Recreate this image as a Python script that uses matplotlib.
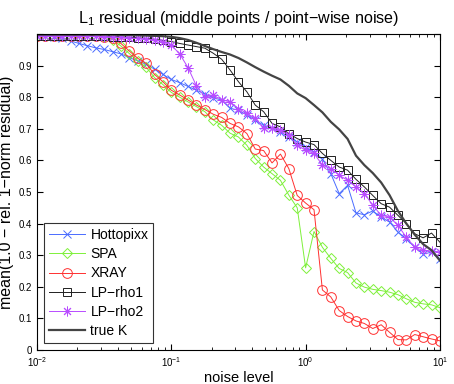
import matplotlib

matplotlib.use("Agg")
import matplotlib.pyplot as plt
import numpy as np
from matplotlib.ticker import FuncFormatter, LogLocator

# noise levels: 49 log-spaced points from 1e-2 to 1e1
noise = np.logspace(-2, 1, 49)

hottopixx = [0.995, 0.994, 0.992, 0.988, 0.978, 0.970, 0.963, 0.956, 0.951, 0.944,
             0.937, 0.925, 0.915, 0.904, 0.889, 0.872, 0.856, 0.846, 0.834, 0.822,
             0.810, 0.798, 0.791, 0.765, 0.759, 0.743, 0.727, 0.711, 0.701, 0.690,
             0.674, 0.658, 0.643, 0.625, 0.604, 0.558, 0.495, 0.521, 0.434, 0.428,
             0.440, 0.420, 0.405, 0.373, 0.352, 0.325, 0.303, 0.310, 0.287]
spa = [0.995, 0.995, 0.995, 0.995, 0.995, 0.995, 0.995, 0.994, 0.990, 0.982,
       0.962, 0.938, 0.915, 0.895, 0.862, 0.840, 0.815, 0.800, 0.785, 0.770,
       0.754, 0.728, 0.711, 0.686, 0.674, 0.648, 0.606, 0.579, 0.558, 0.537,
       0.490, 0.450, 0.260, 0.375, 0.325, 0.290, 0.258, 0.245, 0.212, 0.199,
       0.192, 0.188, 0.183, 0.175, 0.162, 0.151, 0.146, 0.143, 0.134]
xray = [0.995, 0.995, 0.995, 0.995, 0.995, 0.995, 0.995, 0.995, 0.992, 0.986,
        0.970, 0.946, 0.923, 0.907, 0.872, 0.849, 0.822, 0.807, 0.791, 0.775,
        0.761, 0.746, 0.736, 0.717, 0.706, 0.685, 0.636, 0.631, 0.592, 0.620,
        0.574, 0.489, 0.465, 0.444, 0.190, 0.168, 0.125, 0.106, 0.092, 0.084,
        0.068, 0.080, 0.056, 0.033, 0.032, 0.049, 0.042, 0.035, 0.029]
lp_rho1 = [0.995, 0.995, 0.995, 0.995, 0.994, 0.994, 0.994, 0.993, 0.993, 0.992,
           0.991, 0.990, 0.988, 0.986, 0.983, 0.980, 0.976, 0.970, 0.965, 0.960,
           0.955, 0.939, 0.920, 0.886, 0.849, 0.817, 0.775, 0.754, 0.717, 0.706,
           0.685, 0.669, 0.658, 0.650, 0.622, 0.600, 0.579, 0.569, 0.540, 0.516,
           0.489, 0.463, 0.452, 0.426, 0.400, 0.368, 0.355, 0.370, 0.341]
lp_rho2 = [0.995, 0.995, 0.995, 0.995, 0.994, 0.994, 0.993, 0.993, 0.992, 0.991,
           0.990, 0.988, 0.986, 0.984, 0.981, 0.975, 0.965, 0.937, 0.893, 0.835,
           0.801, 0.806, 0.792, 0.785, 0.764, 0.749, 0.733, 0.701, 0.701, 0.696,
           0.680, 0.648, 0.632, 0.622, 0.585, 0.574, 0.553, 0.537, 0.516, 0.495,
           0.458, 0.426, 0.421, 0.394, 0.357, 0.325, 0.315, 0.313, 0.310]
true_k = [0.998, 0.998, 0.998, 0.998, 0.998, 0.998, 0.998, 0.998, 0.998, 0.998,
          0.997, 0.997, 0.996, 0.995, 0.994, 0.993, 0.991, 0.987, 0.981, 0.972,
          0.962, 0.952, 0.943, 0.935, 0.924, 0.910, 0.895, 0.881, 0.868, 0.856,
          0.836, 0.812, 0.797, 0.775, 0.752, 0.722, 0.698, 0.668, 0.615, 0.585,
          0.560, 0.530, 0.490, 0.440, 0.400, 0.365, 0.335, 0.316, 0.283]

plt.rcParams["font.family"] = ["Liberation Sans", "DejaVu Sans"]
plt.rcParams["mathtext.fontset"] = "custom"
plt.rcParams["mathtext.rm"] = "Liberation Sans"
plt.rcParams["mathtext.it"] = "Liberation Sans:italic"

fig = plt.figure(figsize=(4.54, 3.84), dpi=100)
ax = fig.add_axes([0.0815, 0.0885, 0.8875, 0.823])

asterisk = (8, 2, 0)
series = [
    (hottopixx, "Hottopixx", "#4a6cff", "x", 5.5),
    (spa, "SPA", "#7ef03a", "D", 5),
    (xray, "XRAY", "#ff3030", "o", 7),
    (lp_rho1, "LP\u2212rho1", "#202020", "s", 6),
    (lp_rho2, "LP\u2212rho2", "#b84cff", asterisk, 7),
]
for vals, label, color, marker, ms in series:
    ax.plot(noise, vals, color=color, lw=0.7, marker=marker, ms=ms,
            mfc="none", mec=color, mew=0.7, label=label)
ax.plot(noise, true_k, color="#444444", lw=1.6, label="true K")

ax.set_xscale("log")
ax.set_xlim(1e-2, 1e1)
ax.set_ylim(0, 1)
ax.set_yticks(np.arange(0, 1.01, 0.1))
ax.yaxis.set_major_formatter(FuncFormatter(
    lambda v, p: "" if v > 0.95 else (f"{v:.1f}" if v > 0.05 else "0")))
ax.xaxis.set_minor_locator(LogLocator(base=10, subs=np.arange(2, 10)))
ax.tick_params(which="both", direction="in", top=True, right=True, labelsize=7)
ax.tick_params(which="major", length=4)
ax.tick_params(which="minor", length=2)

ax.set_title("L$_1$ residual (middle points / point\u2212wise noise)", fontsize=11.6, pad=8)
ax.set_xlabel("noise level", fontsize=10.5, labelpad=2)
ax.set_ylabel("mean(1.0 \u2212 rel. 1\u2212norm residual)", fontsize=11.5, labelpad=3)

leg = ax.legend(loc="lower left", fontsize=10, fancybox=False, edgecolor="black",
                borderpad=0.35, handlelength=2.6, labelspacing=0.38,
                handletextpad=0.4, borderaxespad=0.5)
leg.get_frame().set_linewidth(0.8)

fig.savefig("out.png", dpi=100)
